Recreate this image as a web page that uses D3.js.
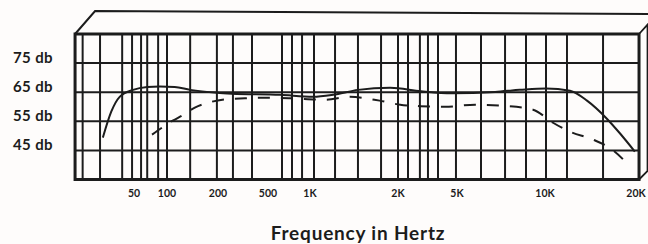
<!DOCTYPE html>
<html>
<head>
<meta charset="utf-8">
<script src="https://cdn.jsdelivr.net/npm/d3@7"></script>
<style>
  html, body { margin: 0; padding: 0; background: #fefcfb; }
  svg { display: block; }
  text { font-family: Lato, "Open Sans", sans-serif; font-weight: bold; fill: #1c1c1c; }
</style>
</head>
<body>
<div id="chart"></div>
<script>
// frequency ticks (Hz) and their labels
const tickFreqs = [50, 100, 200, 500, 1000, 2000, 5000, 10000, 20000];
const tickLabels = ["50", "100", "200", "500", "1K", "2K", "5K", "10K", "20K"];

// dB gridlines and labels
const dbLines = [35, 45, 55, 65, 75, 85];
const dbLabels = [45, 55, 65, 75];

// vertical grid (Hz), hand-drawn log paper
const gridFreqs = [17, 24.5, 39, 48, 58, 66, 83, 100, 137, 197, 263, 373, 630, 743,
  877, 1032, 1218, 1459, 1750, 2000, 2336, 2810, 3185, 3722, 4920, 6040, 7300,
  8610, 10070, 11700, 15140];
const gridEdges = [14.5, 19580];

// solid response
const solidFreq = [26, 31, 37, 49, 66, 86, 111, 137, 197, 258, 610, 1024, 1200, 1460,
  1880, 2860, 4620, 6750, 8200, 10070, 11960, 13500, 15560, 17100, 19000];
const solidDb = [49.4, 58.3, 63.4, 65.8, 66.8, 67.0, 66.8, 65.8, 64.8, 64.5, 64.1, 63.4,
  64.1, 65.8, 66.5, 65.3, 64.6, 65.1, 65.8, 66.3, 65.5, 62.1, 55.9, 50.8, 44.6];

// dashed response
const dashFreq = [73, 90, 108, 124, 146, 175, 236, 328, 456, 720, 1125, 1370, 1730, 2070,
  2810, 4150, 5770, 7300, 9100, 10590, 11960, 14100, 16150, 18350];
const dashDb = [50.4, 52.8, 55.2, 57.1, 59.7, 61.4, 62.6, 62.9, 63.1, 62.9, 62.4, 63.4,
  62.1, 60.7, 60.2, 60.0, 60.7, 60.3, 59.0, 54.5, 51.4, 48.7, 45.3, 39.5];

const W = 648, H = 244;
const ink = "#1c1c1c";

const svg = d3.select("#chart").append("svg")
  .attr("width", W)
  .attr("height", H);

// piecewise log scale: the printed paper is not evenly spaced
const x = d3.scaleLog()
  .domain(tickFreqs)
  .range([134, 167, 218, 268, 310, 398, 457, 545, 642]);

const y = d3.scaleLinear()
  .domain([35, 85])
  .range([179.5, 34]);

const x0 = x(gridEdges[0]), x1 = x(gridEdges[1]);
const y0 = y(85), y1 = y(35);

// box back edges
svg.append("path")
  .attr("d", `M${x0},${y0} L${x0 + 20},11 L${W + 2},14`)
  .attr("fill", "none").attr("stroke", ink).attr("stroke-width", 2);
svg.append("path")
  .attr("d", `M${x1},${y0} L${x1 + 10},${y0 - 11} M${x1},${y1} L${x1 + 10},${y1 - 10} M${x1 + 8.5},${y0 - 10} L${x1 + 8.5},${y1 - 9}`)
  .attr("fill", "none").attr("stroke", ink).attr("stroke-width", 1.8);

// vertical grid
svg.append("g").selectAll("line")
  .data(gridFreqs)
  .join("line")
  .attr("x1", d => x(d)).attr("x2", d => x(d))
  .attr("y1", y0).attr("y2", y1)
  .attr("stroke", ink).attr("stroke-width", 2);

// horizontal grid
svg.append("g").selectAll("line")
  .data(dbLines.slice(1, -1))
  .join("line")
  .attr("x1", x0).attr("x2", x1)
  .attr("y1", d => y(d)).attr("y2", d => y(d))
  .attr("stroke", ink).attr("stroke-width", 2);

// front frame
svg.append("rect")
  .attr("x", x0).attr("y", y0)
  .attr("width", x1 - x0).attr("height", y1 - y0)
  .attr("fill", "none").attr("stroke", ink).attr("stroke-width", 3);

const line = d3.line()
  .x(d => x(d[0]))
  .y(d => y(d[1]))
  .curve(d3.curveMonotoneX);

svg.append("path")
  .datum(d3.zip(solidFreq, solidDb))
  .attr("d", line)
  .attr("fill", "none").attr("stroke", ink).attr("stroke-width", 2);

svg.append("path")
  .datum(d3.zip(dashFreq, dashDb))
  .attr("d", line)
  .attr("fill", "none").attr("stroke", ink).attr("stroke-width", 2)
  .attr("stroke-dasharray", "12,11");

// y labels
svg.append("g").selectAll("text")
  .data(dbLabels)
  .join("text")
  .attr("x", 53)
  .attr("y", d => y(d))
  .attr("text-anchor", "end")
  .style("font-size", "15px")
  .style("letter-spacing", "0.4px")
  .text(d => d + " db");

// x labels (last one kept inside the page)
svg.append("g").selectAll("text")
  .data(tickFreqs)
  .join("text")
  .attr("x", d => Math.min(x(d), W - 12))
  .attr("y", 197)
  .attr("text-anchor", "middle")
  .style("font-size", "10.5px")
  .text((d, i) => tickLabels[i]);

svg.append("text")
  .attr("x", 358)
  .attr("y", 240)
  .attr("text-anchor", "middle")
  .style("font-size", "19px")
  .style("letter-spacing", "0.8px")
  .text("Frequency in Hertz");
</script>
</body>
</html>
